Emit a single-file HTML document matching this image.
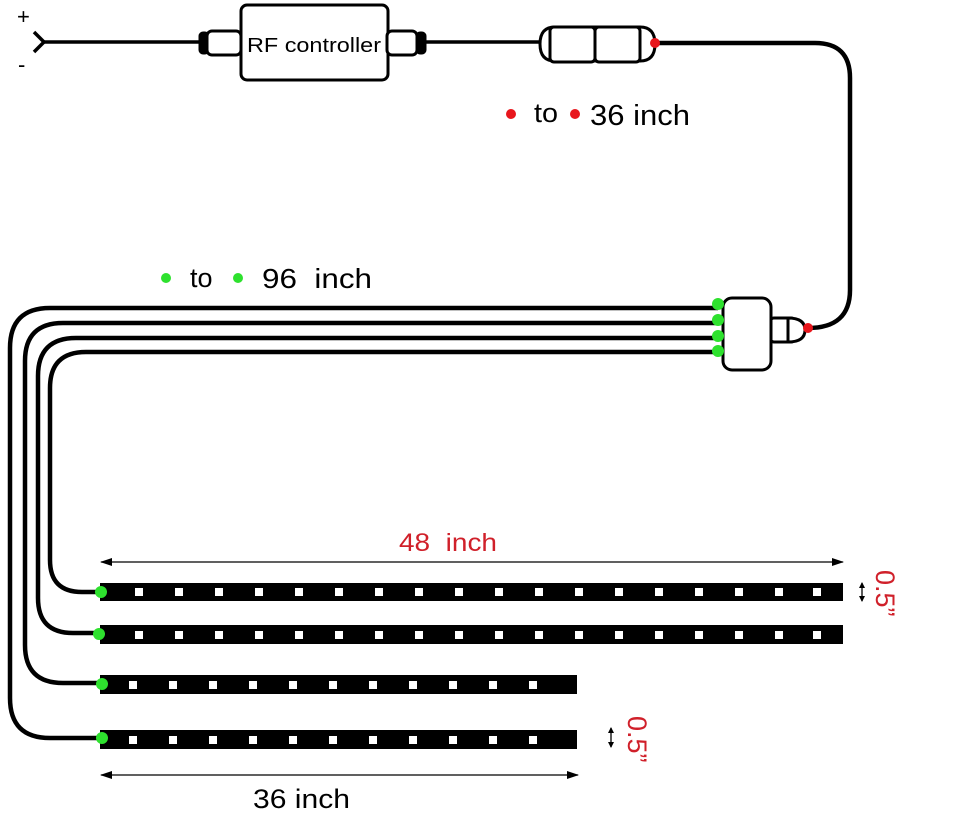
<!DOCTYPE html>
<html><head><meta charset="utf-8"><style>
html,body{margin:0;padding:0;background:#fff;}
svg{display:block;}
text{font-family:"Liberation Sans",sans-serif;}
</style></head><body>
<svg width="955" height="816" viewBox="0 0 955 816" xmlns="http://www.w3.org/2000/svg">
<rect width="955" height="816" fill="#fff"/>
<defs>
<marker id="ar" markerWidth="12" markerHeight="8" refX="11" refY="4" orient="auto-start-reverse" markerUnits="userSpaceOnUse"><path d="M0,0 L12,4 L0,8 Z" fill="#000"/></marker>
<marker id="as" markerWidth="6" markerHeight="6" refX="5" refY="3" orient="auto-start-reverse" markerUnits="userSpaceOnUse"><path d="M0,0 L6,3 L0,6 Z" fill="#000"/></marker>
</defs>
<g fill="none" stroke="#000" stroke-width="4.5">
<path d="M34,32 L44,42 L34,52" stroke-width="3.5"/>
<line x1="44" y1="42" x2="200" y2="42" stroke-width="3.5"/>
<line x1="425" y1="42" x2="545" y2="42" stroke-width="3.5"/>
<path d="M655,43 L815,43 Q850,43 850,78 L850,290 Q850,328 808,328"/>
<path d="M718,308 L50,308 Q10,308 10,348 L10,698 Q10,738 50,738 L100,738"/>
<path d="M718,323 L63,323 Q25,323 25,361 L25,645 Q25,683 63,683 L100,683"/>
<path d="M718,338 L76,338 Q38,338 38,376 L38,598 Q38,633 73,633 L100,633"/>
<path d="M718,352 L86,352 Q50,352 50,388 L50,560 Q50,592 82,592 L100,592"/>
</g>
<g stroke="#000" stroke-width="3" fill="#fff">
<rect x="200" y="33" width="8" height="20" rx="3" fill="#000"/>
<rect x="207" y="31" width="34" height="24" rx="5"/>
<rect x="241" y="5" width="147" height="75" rx="6"/>
<rect x="387" y="31" width="30" height="24" rx="5"/>
<rect x="417" y="33" width="8" height="20" rx="3" fill="#000"/>
<path d="M555,27 L640,27 Q655,27 655,44 Q655,61 640,61 L555,61 Q540,61 540,44 Q540,27 555,27 Z"/>
<rect x="550" y="27" width="45" height="35" rx="4"/>
<rect x="595" y="27" width="45" height="35" rx="4"/>
<rect x="770" y="318" width="25" height="24" rx="4"/>
<path d="M788,318 Q805,318 805,330 Q805,342 788,342 Z"/>
<rect x="723" y="298" width="48" height="72" rx="9"/>
</g>
<text x="247" y="52" font-size="20" fill="#000" textLength="134" lengthAdjust="spacingAndGlyphs">RF controller</text>
<text x="17" y="24" font-size="22" fill="#000">+</text>
<text x="18" y="72" font-size="22" fill="#000">-</text>
<g fill="#e8161c"><circle cx="655" cy="43" r="5"/><circle cx="808" cy="328" r="5"/><circle cx="511" cy="114" r="5"/><circle cx="575" cy="114" r="5"/></g>
<g fill="#2ee12e"><circle cx="718" cy="304" r="6"/><circle cx="718" cy="320" r="6"/><circle cx="718" cy="336" r="6"/><circle cx="718" cy="351" r="6"/>
<circle cx="166" cy="278" r="5"/><circle cx="238" cy="278" r="5"/></g>
<text x="534" y="122" font-size="27" fill="#000" textLength="24" lengthAdjust="spacingAndGlyphs">to</text>
<text x="590" y="125" font-size="29" fill="#000" textLength="100" lengthAdjust="spacingAndGlyphs">36 inch</text>
<text x="190" y="287" font-size="27" fill="#000">to</text>
<text x="262" y="288" font-size="28" fill="#000" xml:space="preserve" textLength="110" lengthAdjust="spacingAndGlyphs">96  inch</text>
<g fill="#000">
<rect x="100" y="583" width="743" height="18"/>
<rect x="100" y="625" width="743" height="19"/>
<rect x="100" y="675" width="477" height="19"/>
<rect x="100" y="730" width="477" height="19"/>
</g>
<g fill="#fff">
<g id="l1"><rect x="135" y="588" width="8" height="8"/><rect x="175" y="588" width="8" height="8"/><rect x="215" y="588" width="8" height="8"/><rect x="255" y="588" width="8" height="8"/><rect x="295" y="588" width="8" height="8"/><rect x="335" y="588" width="8" height="8"/><rect x="375" y="588" width="8" height="8"/><rect x="415" y="588" width="8" height="8"/><rect x="455" y="588" width="8" height="8"/><rect x="495" y="588" width="8" height="8"/><rect x="535" y="588" width="8" height="8"/><rect x="575" y="588" width="8" height="8"/><rect x="615" y="588" width="8" height="8"/><rect x="655" y="588" width="8" height="8"/><rect x="695" y="588" width="8" height="8"/><rect x="735" y="588" width="8" height="8"/><rect x="775" y="588" width="8" height="8"/><rect x="813" y="588" width="8" height="8"/></g>
<use href="#l1" y="43"/>
<g id="l3"><rect x="129" y="681" width="8" height="8"/><rect x="169" y="681" width="8" height="8"/><rect x="209" y="681" width="8" height="8"/><rect x="249" y="681" width="8" height="8"/><rect x="289" y="681" width="8" height="8"/><rect x="329" y="681" width="8" height="8"/><rect x="369" y="681" width="8" height="8"/><rect x="409" y="681" width="8" height="8"/><rect x="449" y="681" width="8" height="8"/><rect x="489" y="681" width="8" height="8"/><rect x="529" y="681" width="8" height="8"/></g>
<use href="#l3" y="55"/>
</g>
<g fill="#2ee12e"><circle cx="101" cy="592" r="6"/><circle cx="99" cy="634" r="6"/><circle cx="102" cy="684" r="6"/><circle cx="102" cy="738" r="6"/></g>
<line x1="101" y1="562" x2="843" y2="562" stroke="#000" stroke-width="1.3" marker-start="url(#ar)" marker-end="url(#ar)"/>
<text x="399" y="551" font-size="25" fill="#d0202a" xml:space="preserve" textLength="98" lengthAdjust="spacingAndGlyphs">48  inch</text>
<line x1="101" y1="775" x2="578" y2="775" stroke="#000" stroke-width="1.3" marker-start="url(#ar)" marker-end="url(#ar)"/>
<text x="253" y="808" font-size="27" fill="#000" textLength="97" lengthAdjust="spacingAndGlyphs">36 inch</text>
<line x1="862" y1="583" x2="862" y2="601" stroke="#000" stroke-width="1.3" marker-start="url(#as)" marker-end="url(#as)"/>
<line x1="611" y1="728" x2="611" y2="747" stroke="#000" stroke-width="1.3" marker-start="url(#as)" marker-end="url(#as)"/>
<text transform="translate(876,570) rotate(90)" font-size="27" fill="#d0202a">0.5”</text>
<text transform="translate(628,716) rotate(90)" font-size="27" fill="#d0202a">0.5”</text>
</svg>
</body></html>
